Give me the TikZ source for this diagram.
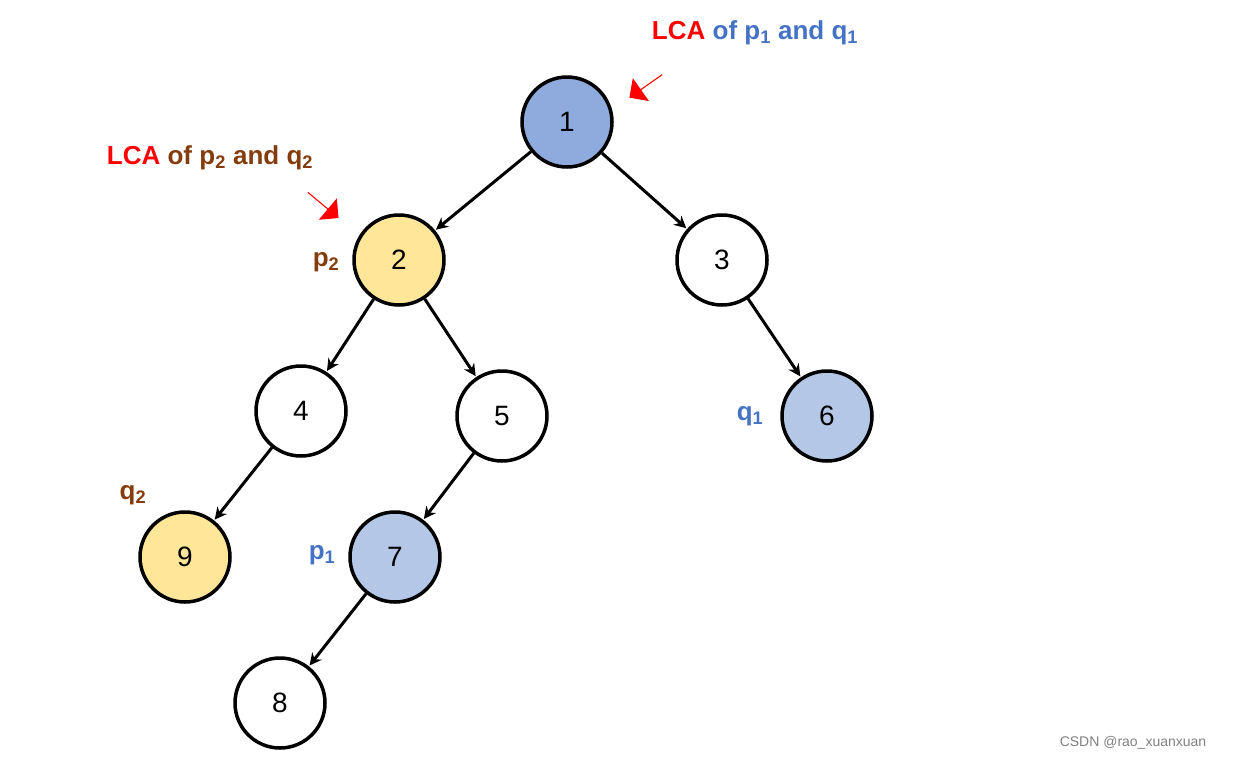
\documentclass[tikz,border=0pt]{standalone}
\usepackage{fontspec}
\setmainfont{Liberation Sans}
\usetikzlibrary{shapes.arrows,arrows.meta}
\definecolor{dblue}{HTML}{8FAADC}
\definecolor{lblue}{HTML}{B4C7E7}
\definecolor{lyel}{HTML}{FFE699}
\definecolor{brn}{HTML}{843C0C}
\definecolor{tblue}{HTML}{4472C4}
\definecolor{red1}{HTML}{FF0000}
\begin{document}
\begin{tikzpicture}[x=1pt,y=-1pt,
  nd/.style={circle,draw=black,line width=3.5pt,minimum size=90pt,inner sep=0pt,font=\fontsize{28}{30}\selectfont},
  ed/.style={line width=3pt,-{Stealth[length=12pt,width=12pt]},shorten >=1pt},
  lb/.style={font=\bfseries\fontsize{26}{28}\selectfont},
  ar/.style={single arrow,fill=red1,minimum height=40pt,minimum width=28pt,single arrow head extend=7pt,inner sep=0pt,shape border uses incircle}]
\useasboundingbox (0,0) rectangle (1236,761);
\node[nd,fill=dblue] (n1) at (567,122) {1};
\node[nd,fill=lyel] (n2) at (399,260) {2};
\node[nd,fill=white] (n3) at (722,260) {3};
\node[nd,fill=white] (n4) at (301,411) {4};
\node[nd,fill=white] (n5) at (502,416) {5};
\node[nd,fill=lblue] (n6) at (827,416) {6};
\node[nd,fill=lblue] (n7) at (395,557) {7};
\node[nd,fill=lyel] (n9) at (185,557) {9};
\node[nd,fill=white] (n8) at (280,703) {8};
\draw[ed] (n1) -- (n2);
\draw[ed] (n1) -- (n3);
\draw[ed] (n2) -- (n4);
\draw[ed] (n2) -- (n5);
\draw[ed] (n3) -- (n6);
\draw[ed] (n4) -- (n9);
\draw[ed] (n5) -- (n7);
\draw[ed] (n7) -- (n8);
\node[lb,text=brn] (lp2) at (326,262) {p\textsubscript{2}};
\node[lb,text=tblue] (lq1) at (750,416) {q\textsubscript{1}};
\node[lb,text=brn] (lq2) at (133,495) {q\textsubscript{2}};
\node[lb,text=tblue] (lp1) at (322,555) {p\textsubscript{1}};
\node[lb] (t1) at (755,33) {\textcolor{red1}{LCA} \textcolor{tblue}{of p\textsubscript{1} and q\textsubscript{1}}};
\node[lb] (t2) at (210,158) {\textcolor{red1}{LCA} \textcolor{brn}{of p\textsubscript{2} and q\textsubscript{2}}};
\node[ar,rotate=-145] (a1) at (646,86) {};
\node[ar,rotate=-40] (a2) at (323,205) {};
\node[text=gray,font=\fontsize{14}{16}\selectfont] (wm) at (1133,743) {CSDN @rao\_xuanxuan};
\end{tikzpicture}
\end{document}
